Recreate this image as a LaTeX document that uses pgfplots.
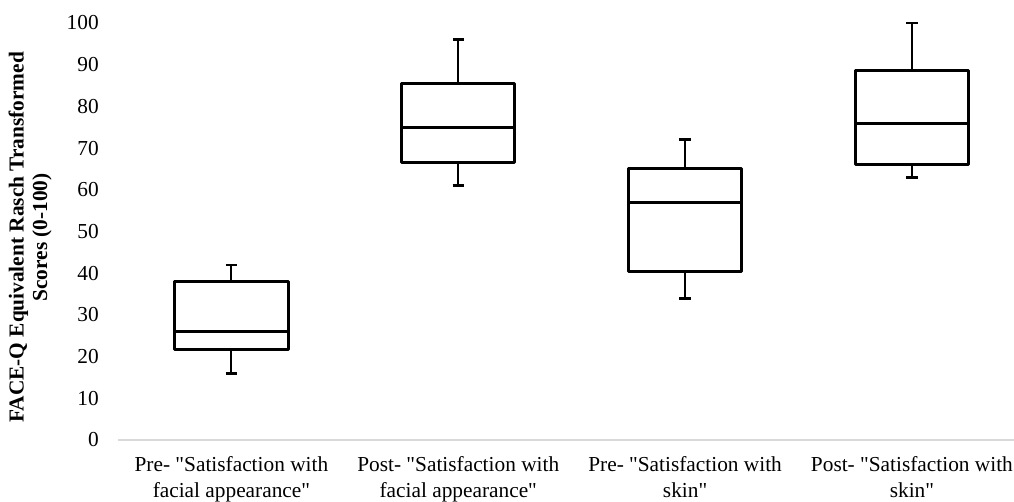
\documentclass[border=0pt]{standalone}
\usepackage{fontspec}
\setmainfont{Liberation Serif}[Ligatures=TeXOff]
\usepackage{pgfplots}
\pgfplotsset{compat=1.18}
\definecolor{basegray}{HTML}{D9D9D9}
% box statistics: position, lower whisker, lower quartile, median, upper quartile, upper whisker
% 0: 16 21.75 26 38 42
% 1: 61 66.5 75 85.5 96
% 2: 34 40.4 57 65 72
% 3: 63 66 76 88.5 100
\begin{document}
\begin{tikzpicture}
\useasboundingbox (0,0) rectangle (760.5pt,375.75pt);
\begin{axis}[
  at={(88.5pt,45.75pt)}, anchor=south west,
  scale only axis, width=672pt, height=312.75pt,
  xmin=-0.5, xmax=3.45, ymin=0, ymax=100,
  axis x line*=bottom, axis y line*=left,
  x axis line style={draw=basegray, line width=1.5pt},
  y axis line style={draw=none},
  tick style={draw=none},
  xtick={0,1,2,3},
  xticklabels={{Pre- "Satisfaction with\\facial appearance"},{Post- "Satisfaction with\\facial appearance"},{Pre- "Satisfaction with\\skin"},{Post- "Satisfaction with\\skin"}},
  xticklabel style={align=center, font=\fontsize{16}{19.5}\selectfont, inner sep=0pt, anchor=north, yshift=-12.4pt},
  ytick={0,10,...,100},
  yticklabel style={font=\fontsize{16}{19.5}\selectfont, inner sep=0pt, anchor=east, xshift=-14.25pt},
  /pgf/number format/assume math mode=true,
  ylabel={FACE-Q Equivalent Rasch Transformed\\Scores (0-100)},
  every axis y label/.style={at={(axis description cs:-0.098,0.486)}, rotate=90, anchor=center, align=center, font=\bfseries\fontsize{16}{17.6}\selectfont},
  clip=false,
]
% --- box 0 ---
\addplot[black, line width=2.25pt, line join=round] coordinates {(-0.25,21.75) (0.25,21.75) (0.25,38) (-0.25,38)} -- cycle;
\addplot[black, line width=2.25pt] coordinates {(-0.25,26) (0.25,26)};
\addplot[black, line width=1.6pt] coordinates {(0,38) (0,42)};
\addplot[black, line width=1.6pt] coordinates {(0,21.75) (0,16)};
\addplot[black, line width=2pt] coordinates {(-0.025,42) (0.025,42)};
\addplot[black, line width=2pt] coordinates {(-0.025,16) (0.025,16)};
% --- box 1 ---
\addplot[black, line width=2.25pt, line join=round] coordinates {(0.75,66.5) (1.25,66.5) (1.25,85.5) (0.75,85.5)} -- cycle;
\addplot[black, line width=2.25pt] coordinates {(0.75,75) (1.25,75)};
\addplot[black, line width=1.6pt] coordinates {(1,85.5) (1,96)};
\addplot[black, line width=1.6pt] coordinates {(1,66.5) (1,61)};
\addplot[black, line width=2pt] coordinates {(0.975,96) (1.025,96)};
\addplot[black, line width=2pt] coordinates {(0.975,61) (1.025,61)};
% --- box 2 ---
\addplot[black, line width=2.25pt, line join=round] coordinates {(1.75,40.4) (2.25,40.4) (2.25,65) (1.75,65)} -- cycle;
\addplot[black, line width=2.25pt] coordinates {(1.75,57) (2.25,57)};
\addplot[black, line width=1.6pt] coordinates {(2,65) (2,72)};
\addplot[black, line width=1.6pt] coordinates {(2,40.4) (2,34)};
\addplot[black, line width=2pt] coordinates {(1.975,72) (2.025,72)};
\addplot[black, line width=2pt] coordinates {(1.975,34) (2.025,34)};
% --- box 3 ---
\addplot[black, line width=2.25pt, line join=round] coordinates {(2.75,66) (3.25,66) (3.25,88.5) (2.75,88.5)} -- cycle;
\addplot[black, line width=2.25pt] coordinates {(2.75,76) (3.25,76)};
\addplot[black, line width=1.6pt] coordinates {(3,88.5) (3,100)};
\addplot[black, line width=1.6pt] coordinates {(3,66) (3,63)};
\addplot[black, line width=2pt] coordinates {(2.975,100) (3.025,100)};
\addplot[black, line width=2pt] coordinates {(2.975,63) (3.025,63)};
\end{axis}
\end{tikzpicture}
\end{document}
